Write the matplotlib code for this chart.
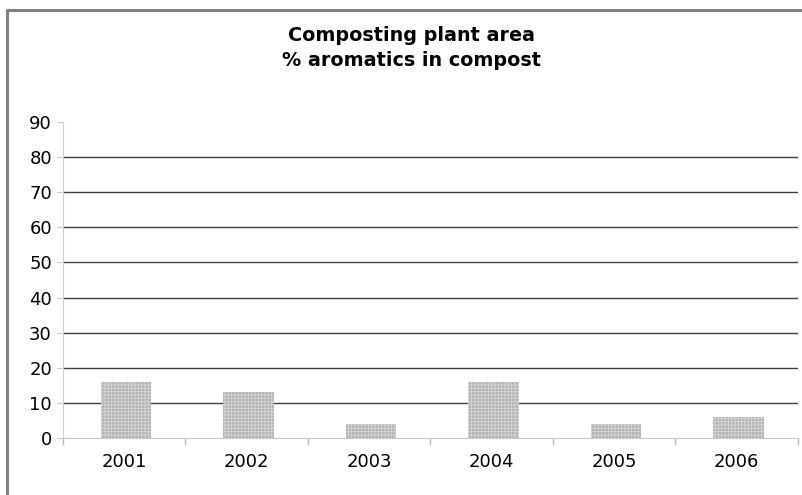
import matplotlib
matplotlib.use('Agg')
import matplotlib.pyplot as plt
from matplotlib.lines import Line2D

# Données : pourcentage d'aromatiques dans le compost par année
annees = ['2001', '2002', '2003', '2004', '2005', '2006']
aromatiques = [16, 13, 4, 16, 4, 6]
graduations = [0, 10, 20, 30, 40, 50, 60, 70, 80, 90]

plt.rcParams['font.family'] = 'DejaVu Sans'
plt.rcParams['hatch.linewidth'] = 0.6

fig = plt.figure(figsize=(8.03, 4.95), dpi=100)
ax = fig.add_axes([63 / 803, 57 / 495, 735 / 803, 316 / 495])

# Cadre gris autour du graphique
fig.add_artist(Line2D([7 / 803, 7 / 803, 1], [0, 1 - 10 / 495, 1 - 10 / 495],
                      transform=fig.transFigure, color='#808080', lw=2.2))

# Lignes de quadrillage horizontales
for y in graduations[1:-1]:
    ax.axhline(y, color='#404040', lw=1.0, zorder=1)

x = [i + 0.015 for i in range(len(annees))]
ax.bar(x, aromatiques, width=0.41, color='#b4b4b4', hatch='+++++',
       edgecolor='#d6d6d6', linewidth=0, zorder=2)

ax.set_xlim(-0.5, len(annees) - 0.5)
ax.set_ylim(0, 90)
ax.set_yticks(graduations)
ax.set_yticklabels([str(g) for g in graduations], fontsize=13)
ax.set_xticks(range(len(annees)))
ax.set_xticklabels(annees, fontsize=13)
ax.tick_params(axis='x', length=0, pad=11)
ax.tick_params(axis='y', length=4, color='#c8c8c8', pad=4)

# Petits traits entre les catégories
for b in [i - 0.5 for i in range(len(annees) + 1)]:
    ax.plot([b, b], [0, -1.6], color='#b8b8b8', lw=1, clip_on=False)

for side in ['top', 'right']:
    ax.spines[side].set_visible(False)
ax.spines['left'].set_color('#d0d0d0')
ax.spines['left'].set_linestyle((0, (1, 1)))
ax.spines['bottom'].set_color('#c8c8c8')
ax.spines['bottom'].set_linestyle((0, (1, 1)))

fig.text(412 / 803, 1 - 48 / 495, 'Composting plant area\n% aromatics in compost',
         ha='center', va='center', fontsize=13.8, fontweight='bold', linespacing=1.45)

fig.savefig('out.png', dpi=100)
